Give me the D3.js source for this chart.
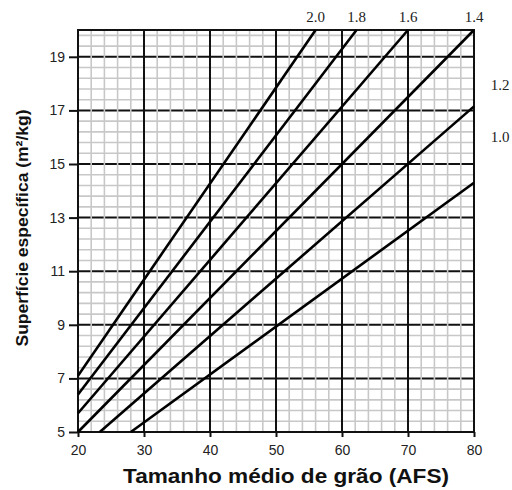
<!DOCTYPE html>
<html>
<head>
<meta charset="utf-8">
<script src="https://cdn.jsdelivr.net/npm/d3@7"></script>
<style>
  body { margin: 0; background: #fff; }
  .tick text { font-family: "Liberation Sans", Arial, sans-serif; font-size: 14px; fill: #222; }
  .curve-label { font-family: "Liberation Serif", "Times New Roman", serif; font-size: 15px; fill: #222; }
  .title { font-family: "Liberation Sans", Arial, sans-serif; font-weight: bold; fill: #111; }
</style>
</head>
<body>
<div id="chart"></div>
<script>
"use strict";

// angularity coefficients, one line each
var coefs = ["2.0", "1.8", "1.6", "1.4", "1.2", "1.0"];
// end points of each line (AFS, m²/kg)
var startPts = [[20, 7.1], [20, 6.4], [20, 5.7], [20, 5.0], [23.3, 5], [28, 5]];
var endPts = [[56, 20], [62.2, 20], [70, 20], [80, 20], [80, 17.15], [80, 14.3]];
var xTicks = [20, 30, 40, 50, 60, 70, 80];
var yTicks = [5, 7, 9, 11, 13, 15, 17, 19];

var width = 512, height = 490;
var margin = { top: 30, right: 38, bottom: 58, left: 78 };

var svg = d3.select("#chart").append("svg")
  .attr("width", width)
  .attr("height", height);

var x = d3.scaleLinear().domain([20, 80]).range([margin.left, width - margin.right]);
var y = d3.scaleLinear().domain([5, 20]).range([height - margin.bottom, margin.top]);

var grid = svg.append("g");

// major horizontal lines first, the grey verticals cut through them
grid.selectAll(".hmajor")
  .data(yTicks.slice(1))
  .enter().append("line")
  .attr("x1", x(20)).attr("x2", x(80))
  .attr("y1", function(d) { return y(d); })
  .attr("y2", function(d) { return y(d); })
  .style("stroke", "#111")
  .style("stroke-width", 2);

// minor grey grid (skip where a black line already is)
var hMinor = d3.range(1, 38).map(function(k) { return 5 + k * 0.4; })
  .filter(function(d) { return Math.abs(d - Math.round(d)) > 0.01 || Math.round(d) % 2 == 0; });
var vMinor = d3.range(22, 80, 2).filter(function(d) { return d % 10 != 0; });

grid.selectAll(".hminor")
  .data(hMinor)
  .enter().append("line")
  .attr("x1", x(20)).attr("x2", x(80))
  .attr("y1", function(d) { return y(d); })
  .attr("y2", function(d) { return y(d); })
  .style("stroke", "#c8c8c8")
  .style("stroke-width", 1.6);

grid.selectAll(".vminor")
  .data(vMinor)
  .enter().append("line")
  .attr("y1", y(5)).attr("y2", y(20))
  .attr("x1", function(d) { return x(d); })
  .attr("x2", function(d) { return x(d); })
  .style("stroke", "#c8c8c8")
  .style("stroke-width", 1.6);

grid.selectAll(".vmajor")
  .data(xTicks)
  .enter().append("line")
  .attr("y1", y(5)).attr("y2", y(20))
  .attr("x1", function(d) { return x(d); })
  .attr("x2", function(d) { return x(d); })
  .style("stroke", "#111")
  .style("stroke-width", 2);

svg.append("rect")
  .attr("x", x(20)).attr("y", y(20))
  .attr("width", x(80) - x(20))
  .attr("height", y(5) - y(20))
  .style("fill", "none")
  .style("stroke", "#111")
  .style("stroke-width", 2);

// axes
var xAxis = svg.append("g")
  .attr("transform", "translate(0," + y(5) + ")")
  .call(d3.axisBottom(x).tickValues(xTicks).tickSize(5).tickPadding(8));
var yAxis = svg.append("g")
  .attr("transform", "translate(" + x(20) + ",0)")
  .call(d3.axisLeft(y).tickValues(yTicks).tickSize(9).tickPadding(4));
[xAxis, yAxis].forEach(function(a) {
  a.select(".domain").remove();
  a.selectAll(".tick line").style("stroke", "#111").style("stroke-width", 2);
});

// data lines
var line = d3.line()
  .x(function(d) { return x(d[0]); })
  .y(function(d) { return y(d[1]); });

svg.selectAll(".curve")
  .data(coefs)
  .enter().append("path")
  .attr("d", function(d, i) { return line([startPts[i], endPts[i]]); })
  .style("fill", "none")
  .style("stroke", "#000")
  .style("stroke-width", 2.6);

// labels: lines that reach the top are labelled above the frame,
// the two others sit to the right of the frame
var rightLabelY = { "1.2": 17.76, "1.0": 15.82 };
svg.selectAll(".curve-label")
  .data(coefs)
  .enter().append("text")
  .attr("class", "curve-label")
  .attr("text-anchor", "middle")
  .attr("x", function(d, i) { return endPts[i][1] >= 20 ? x(endPts[i][0]) : x(80) + 26; })
  .attr("y", function(d, i) { return endPts[i][1] >= 20 ? y(20) - 8 : y(rightLabelY[d]); })
  .text(function(d) { return d; });

svg.append("text")
  .attr("class", "title")
  .attr("text-anchor", "middle")
  .style("font-size", "20px")
  .attr("textLength", 326)
  .attr("lengthAdjust", "spacingAndGlyphs")
  .attr("x", 286)
  .attr("y", 483)
  .text("Tamanho médio de grão (AFS)");

svg.append("text")
  .attr("class", "title")
  .attr("text-anchor", "middle")
  .style("font-size", "17px")
  .attr("textLength", 237)
  .attr("lengthAdjust", "spacingAndGlyphs")
  .attr("transform", "translate(28,228) rotate(-90)")
  .text("Superfície específica (m²/kg)");
</script>
</body>
</html>
